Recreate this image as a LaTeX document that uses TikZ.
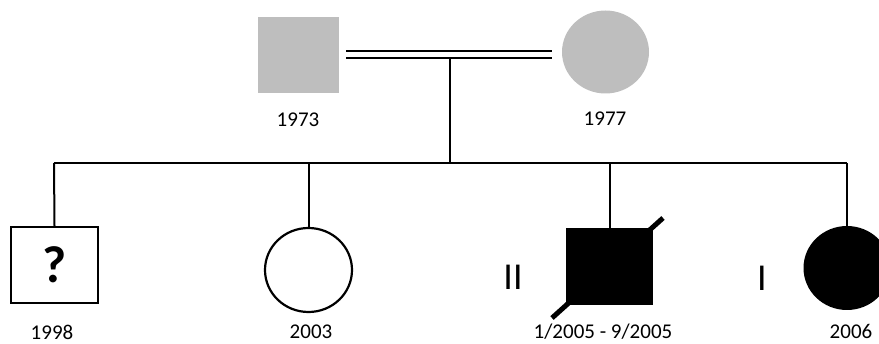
\documentclass[tikz,border=0pt]{standalone}
\usepackage{fontspec}
\usetikzlibrary{shapes.geometric}
\setmainfont{Carlito}
\begin{document}
\begin{tikzpicture}[x=1pt,y=-1pt,
  line/.style={line width=2pt},
  male/.style={rectangle,minimum width=87pt,minimum height=76pt,inner sep=0pt},
  female/.style={ellipse,minimum width=87pt,minimum height=84pt,inner sep=0pt},
  year/.style={font=\fontsize{21}{24}\selectfont,inner sep=1pt},
  twin/.style={font=\fontsize{38}{40}\selectfont}]
\useasboundingbox (0,0) rectangle (879,344);
\definecolor{parentgray}{HTML}{BEBEBE}
% parents
\node[male,minimum width=81pt,fill=parentgray] (f) at (298.5,55) {};
\node[female,minimum height=83pt,fill=parentgray] (m) at (605.5,52) {};
\node[year] (yf) at (298,120) {1973};
\node[year] (ym) at (605,119) {1977};
% marriage double line
\draw[line width=2.6pt] (346,51) -- (552,51);
\draw[line width=2.6pt] (346,58) -- (552,58);
\coordinate (mc) at (450,58);
\coordinate (sib) at (450,163);
\draw[line] (mc) -- (sib);
% sibship line
\coordinate (s1) at (54,163);
\coordinate (s4) at (847,163);
\draw[line] (s1) -- (s4);
% children
\node[male,draw,line width=2.4pt,font=\fontsize{52}{52}\selectfont\bfseries] (c1) at (54.5,265) {?};
\node[female,draw,line width=2.2pt] (c2) at (308.5,270) {};
\node[male,minimum height=77pt,fill=black] (c3) at (609.5,266.5) {};
\node[female,fill=black] (c4) at (847,268) {};
\draw[line] (s1) -- (c1.north);
\draw[line] (308.5,163) -- (c2.north);
\draw[line] (609.5,163) -- (c3.north);
\draw[line] (s4) -- (c4.north);
% deceased mark
\coordinate (d1) at (552,318);
\coordinate (d2) at (663,218);
\draw[line width=5pt] (d1) -- (d2);
% labels
\node[year] (y1) at (52,332) {1998};
\node[year] (y2) at (311,332) {2003};
\node[year] (y3) at (603,332) {1/2005 - 9/2005};
\node[year] (y4) at (851,331) {2006};
\node[twin] (t2) at (513,277) {II};
\node[twin] (t1) at (762,278) {I};
\end{tikzpicture}
\end{document}
